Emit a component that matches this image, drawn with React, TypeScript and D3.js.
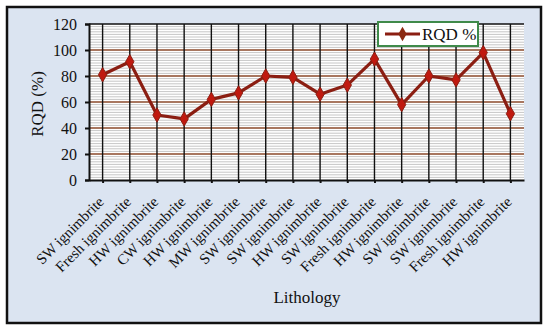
import React, { useEffect, useRef } from 'react';
import * as d3 from 'd3';

const lithology = [
  'SW ignimbrite', 'Fresh ignimbrite', 'HW ignimbrite', 'CW ignimbrite',
  'HW ignimbrite', 'MW ignimbrite', 'SW ignimbrite', 'SW ignimbrite',
  'HW ignimbrite', 'SW ignimbrite', 'Fresh ignimbrite', 'HW ignimbrite',
  'SW ignimbrite', 'SW ignimbrite', 'Fresh ignimbrite', 'HW ignimbrite',
];
const rqd = [81, 91, 50, 47, 62, 67, 80, 79, 66, 73, 93, 58, 80, 77, 98, 51];
const yTicks = [0, 20, 40, 60, 80, 100, 120];

const W = 550;
const H = 336;
const FONT = "'Liberation Serif', 'Times New Roman', Times, serif";

const App = () => {
  const svgRef = useRef<SVGSVGElement>(null);

  useEffect(() => {
    const svg = d3.select(svgRef.current);
    svg.selectAll('*').remove();

    const margin = { left: 89, right: 524, top: 24, bottom: 180 };
    const idx = lithology.map((_, i) => i);

    const x = d3.scalePoint<number>()
      .domain(idx)
      .range([margin.left, margin.right])
      .padding(0.5);
    const y = d3.scaleLinear().domain([0, 120]).range([margin.bottom, margin.top]);

    // frame
    svg.append('rect')
      .attr('x', 7).attr('y', 7).attr('width', 534).attr('height', 316)
      .attr('fill', '#dbe4f1').attr('stroke', '#111').attr('stroke-width', 2.5);

    // plot area
    svg.append('rect')
      .attr('x', margin.left).attr('y', margin.top)
      .attr('width', margin.right - margin.left).attr('height', margin.bottom - margin.top)
      .attr('fill', '#ffffff');

    // minor grid
    const minor = d3.range(2, 120, 2).filter(v => v % 20 !== 0);
    svg.append('g').selectAll('line').data(minor).enter().append('line')
      .attr('x1', margin.left).attr('x2', margin.right)
      .attr('y1', d => y(d)).attr('y2', d => y(d))
      .attr('stroke', '#b8b8b8').attr('stroke-width', 0.8);

    // major grid
    svg.append('g').selectAll('line').data(yTicks.filter(v => v > 0)).enter().append('line')
      .attr('x1', margin.left).attr('x2', margin.right)
      .attr('y1', d => y(d)).attr('y2', d => y(d))
      .attr('stroke', d => d === 120 ? '#111' : '#8b4a2b').attr('stroke-width', d => d === 120 ? 1.5 : 1.3);

    // vertical grid
    svg.append('g').selectAll('line').data(idx).enter().append('line')
      .attr('x1', d => x(d)!).attr('x2', d => x(d)!)
      .attr('y1', margin.top).attr('y2', margin.bottom)
      .attr('stroke', '#111').attr('stroke-width', 1.4);

    // axes
    const yAxis = svg.append('g')
      .attr('transform', `translate(${margin.left},0)`)
      .call(d3.axisLeft(y).tickValues(yTicks).tickSize(4).tickPadding(8));
    yAxis.attr('font-family', FONT).attr('font-size', 16);
    yAxis.select('.domain').attr('stroke', '#111').attr('stroke-width', 2);
    yAxis.selectAll('.tick line').attr('stroke', '#111').attr('stroke-width', 2);
    yAxis.selectAll('text').attr('fill', '#111');

    const xAxis = svg.append('g')
      .attr('transform', `translate(0,${margin.bottom})`)
      .call(d3.axisBottom(x).tickSize(3).tickSizeOuter(0).tickFormat(d => lithology[d as number]));
    xAxis.attr('font-family', FONT).attr('font-size', 15);
    xAxis.select('.domain').attr('stroke', '#111').attr('stroke-width', 2);
    xAxis.selectAll('.tick line').attr('stroke', '#111').attr('stroke-width', 2);
    xAxis.selectAll('text')
      .attr('fill', '#111')
      .attr('text-anchor', 'end')
      .attr('y', 0)
      .attr('dy', '0.35em')
      .attr('transform', 'translate(-2,19) rotate(-45)');

    // line
    const line = d3.line<number>().x((_, i) => x(i)!).y(d => y(d));
    svg.append('path')
      .datum(rqd)
      .attr('d', line)
      .attr('fill', 'none')
      .attr('stroke', '#8b1e12')
      .attr('stroke-width', 3.2)
      .attr('stroke-linejoin', 'round');

    const diamond = d3.symbol().type(d3.symbolDiamond).size(60);
    svg.append('g').selectAll('path').data(rqd).enter().append('path')
      .attr('d', diamond)
      .attr('transform', (d, i) => `translate(${x(i)},${y(d)})`)
      .attr('fill', '#c0190f')
      .attr('stroke', '#8b1e12')
      .attr('stroke-width', 1);

    // legend
    const lg = svg.append('g').attr('transform', 'translate(378,22)');
    lg.append('rect')
      .attr('width', 100).attr('height', 24)
      .attr('fill', '#ffffff').attr('stroke', '#3f8a4a').attr('stroke-width', 2);
    lg.append('line')
      .attr('x1', 7).attr('x2', 42).attr('y1', 12).attr('y2', 12)
      .attr('stroke', '#8b1e12').attr('stroke-width', 3.2);
    lg.append('path')
      .attr('d', diamond)
      .attr('transform', 'translate(24.5,12)')
      .attr('fill', '#8b2a12');
    lg.append('text')
      .attr('x', 44).attr('y', 18)
      .attr('font-family', FONT).attr('font-size', 17).attr('fill', '#111')
      .text('RQD %');

    // axis titles
    svg.append('text')
      .attr('transform', `translate(43,${(margin.top + margin.bottom) / 2 + 2}) rotate(-90)`)
      .attr('text-anchor', 'middle')
      .attr('font-family', FONT).attr('font-size', 17).attr('fill', '#111')
      .text('RQD (%)');
    svg.append('text')
      .attr('x', 307).attr('y', 303)
      .attr('text-anchor', 'middle')
      .attr('font-family', FONT).attr('font-size', 17).attr('fill', '#111')
      .text('Lithology');
  }, []);

  return (
    <div style={{ position: 'absolute', left: 0, top: 0, width: W, height: H, background: '#fff' }}>
      <svg ref={svgRef} width={W} height={H} />
    </div>
  );
};

export default App;
